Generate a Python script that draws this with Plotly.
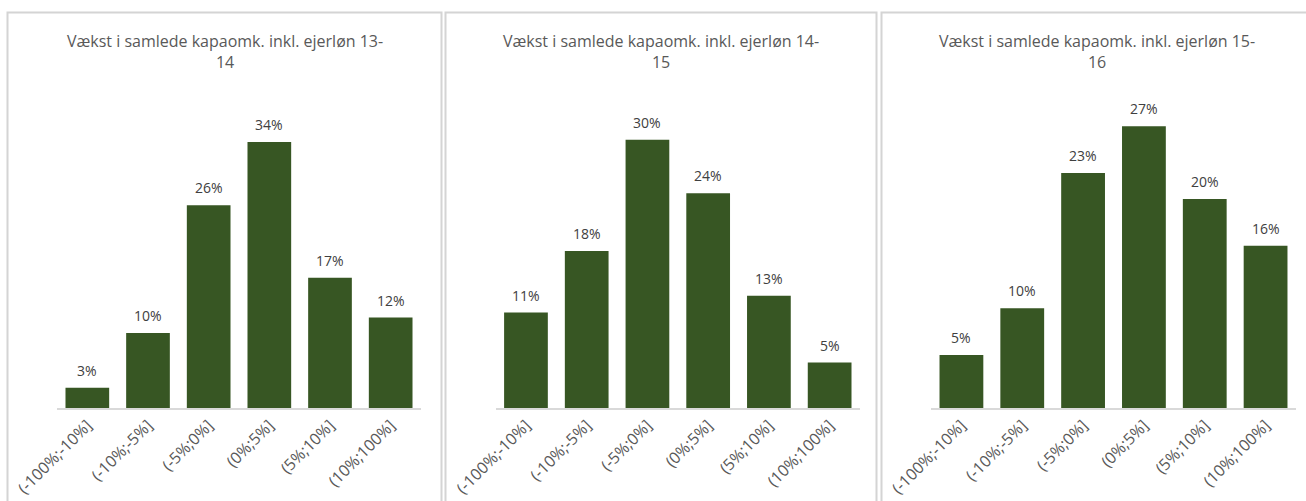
import plotly.graph_objects as go

categories = ["(-100%;-10%]", "(-10%;-5%]", "(-5%;0%]", "(0%;5%]", "(5%;10%]", "(10%;100%]"]
titles = [
    "Vækst i samlede kapaomk. inkl. ejerløn 13-<br>14",
    "Vækst i samlede kapaomk. inkl. ejerløn 14-<br>15",
    "Vækst i samlede kapaomk. inkl. ejerløn 15-<br>16",
]
values_13_14 = [0.026, 0.096, 0.26, 0.341, 0.167, 0.116]
values_14_15 = [0.107, 0.176, 0.301, 0.241, 0.126, 0.051]
values_15_16 = [0.051, 0.096, 0.226, 0.271, 0.201, 0.156]
y_max = [0.40, 0.35, 0.30]

W, H = 1306, 501
BAR = "#375623"
FONT = "Open Sans"

panels = [(7.5, 441.5), (445.5, 876.5), (881.5, 1312)]
plot_x = [(57, 421), (495.6, 860), (931, 1296)]
plot_y = (96, 408)

fig = go.Figure()
series = [values_13_14, values_14_15, values_15_16]
for i, vals in enumerate(series):
    ax = "" if i == 0 else str(i + 1)
    fig.add_trace(go.Bar(
        x=categories, y=vals, xaxis="x" + ax, yaxis="y" + ax,
        marker=dict(color=BAR, line=dict(width=0)),
        showlegend=False, hoverinfo="skip",
    ))
    for c, v in zip(categories, vals):
        fig.add_annotation(
            x=c, y=v, xref="x" + ax, yref="y" + ax,
            text=f"{round(v * 100)}%", showarrow=False, yanchor="bottom", yshift=6,
            font=dict(family=FONT, size=14, color="#404040"),
        )
    x0, x1 = plot_x[i]
    fig.layout["xaxis" + ax] = dict(
        domain=[x0 / W, x1 / W], anchor="y" + ax, automargin=False,
        showline=True, linecolor="#D9D9D9", linewidth=1.5,
        showgrid=False, zeroline=False, ticks="",
        tickangle=-45, tickfont=dict(family=FONT, size=16, color="#595959"),
        fixedrange=True,
    )
    fig.layout["yaxis" + ax] = dict(
        domain=[(H - plot_y[1]) / H, (H - plot_y[0]) / H], anchor="x" + ax,
        automargin=False,
        range=[0, y_max[i]], visible=False, showgrid=False, zeroline=False,
        fixedrange=True,
    )
    p0, p1 = panels[i]
    fig.add_shape(type="rect", xref="paper", yref="paper",
                  x0=p0 / W, x1=p1 / W, y0=-0.05, y1=(H - 12.5) / H,
                  line=dict(color="#D4D4D4", width=2), fillcolor="rgba(0,0,0,0)", layer="below")
    fig.add_annotation(
        text=titles[i], xref="paper", yref="paper",
        x=((p0 + p1) / 2) / W, y=(H - 28) / H, xanchor="center", yanchor="top",
        showarrow=False, align="center",
        font=dict(family=FONT, size=16, color="#595959"),
    )

fig.update_layout(
    width=W, height=H, margin=dict(l=0, r=0, t=0, b=0, autoexpand=False),
    paper_bgcolor="white", plot_bgcolor="white", bargap=0.28,
)
fig.write_html("out.html", config={"displayModeBar": False},
               post_script="document.body.style.margin='0';")
